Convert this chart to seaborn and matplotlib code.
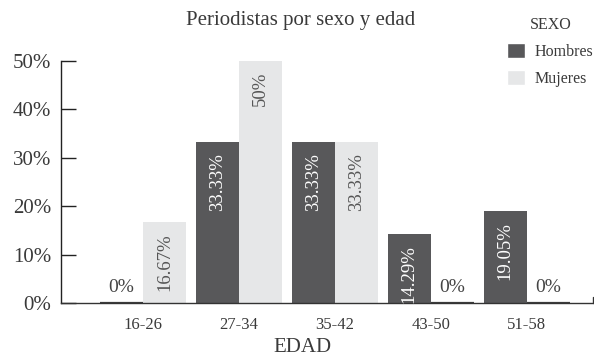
import matplotlib
matplotlib.use("Agg")
import matplotlib.pyplot as plt
import seaborn as sns
import pandas as pd
from matplotlib.patches import Patch

# Age bands and the share of journalists per sex (percent)
edades = ["16-26", "27-34", "35-42", "43-50", "51-58"]
hombres = [0, 33.33, 33.33, 14.29, 19.05]
mujeres = [16.67, 50, 33.33, 0, 0]
sexos = ["Hombres", "Mujeres"]
etiquetas_y = ["0%", "10%", "20%", "30%", "40%", "50%"]

df = pd.DataFrame({
    "EDAD": edades * 2,
    "SEXO": [sexos[0]] * len(edades) + [sexos[1]] * len(edades),
    "valor": hombres + mujeres,
})

sns.set_theme(style="white")
plt.rcParams["font.family"] = ["Liberation Serif", "DejaVu Serif"]

TXT = "#3a3a3a"
OSCURO = "#58585a"
CLARO = "#e6e7e8"

fig = plt.figure(figsize=(5.94, 3.57), dpi=100)
ax = fig.add_axes([61 / 594, 1 - 303 / 357, 532 / 594, 242 / 357])

sns.barplot(data=df, x="EDAD", y="valor", hue="SEXO", order=edades,
            hue_order=sexos, palette=[OSCURO, CLARO], width=0.9,
            saturation=1, linewidth=0, legend=False, ax=ax)

ax.set_ylim(0, 50)
ax.set_xlim(-0.855, 4.69)

# value labels: rotated inside the bar, flat above an empty bar
for cont in ax.containers:
    for bar in cont:
        h = bar.get_height()
        xc = bar.get_x() + bar.get_width() / 2
        oscuro = bar.get_facecolor()[0] < 0.5
        if h > 0:
            ax.annotate(f"{h:g}%", (xc, h), xytext=(0, -8),
                        textcoords="offset points", rotation=90,
                        ha="center", va="top", fontsize=13.5,
                        color="white" if oscuro else "#555555")
        else:
            bar.set_edgecolor("#3c3c3c")
            bar.set_linewidth(1.6)
            ax.annotate("0%", (xc, 0), xytext=(0, 5),
                        textcoords="offset points", ha="center",
                        va="bottom", fontsize=14, color="#444444")

for s in ["top", "right"]:
    ax.spines[s].set_visible(False)
ax.spines["left"].set_color("#222222")
ax.spines["left"].set_linewidth(1.0)
ax.spines["bottom"].set_color("#333333")
ax.spines["bottom"].set_linewidth(1.0)

# small closing tick at the right end of the baseline
ax.plot([1, 1], [0, 0.025], transform=ax.transAxes, color="#333333",
        lw=1.0, clip_on=False)

ax.set_yticks([0, 10, 20, 30, 40, 50])
ax.set_yticklabels(etiquetas_y, fontsize=15, color=TXT)
ax.tick_params(axis="y", direction="in", length=11, width=1.0,
               color="#222222", pad=7, left=True)
ax.tick_params(axis="x", length=0, pad=10, labelsize=12, labelcolor=TXT)
ax.set_xlabel("")
ax.set_ylabel("")

fig.text(302 / 594, 1 - 348 / 357, "EDAD", ha="center", va="center",
         fontsize=15, color=TXT)
fig.text(301 / 594, 1 - 20 / 357, "Periodistas por sexo y edad",
         ha="center", va="center", fontsize=15, color=TXT)

handles = [Patch(facecolor=OSCURO), Patch(facecolor=CLARO)]
leg = fig.legend(handles, sexos, title="SEXO", loc="upper left",
                 bbox_to_anchor=(493 / 594, 1 - 3 / 357), frameon=False,
                 fontsize=11.5, title_fontsize=11.5, handlelength=1.1,
                 handleheight=1.1, handletextpad=0.6, labelspacing=0.6)
for t in leg.get_texts():
    t.set_color(TXT)
leg.get_title().set_color(TXT)

fig.savefig("out.png", dpi=100)
